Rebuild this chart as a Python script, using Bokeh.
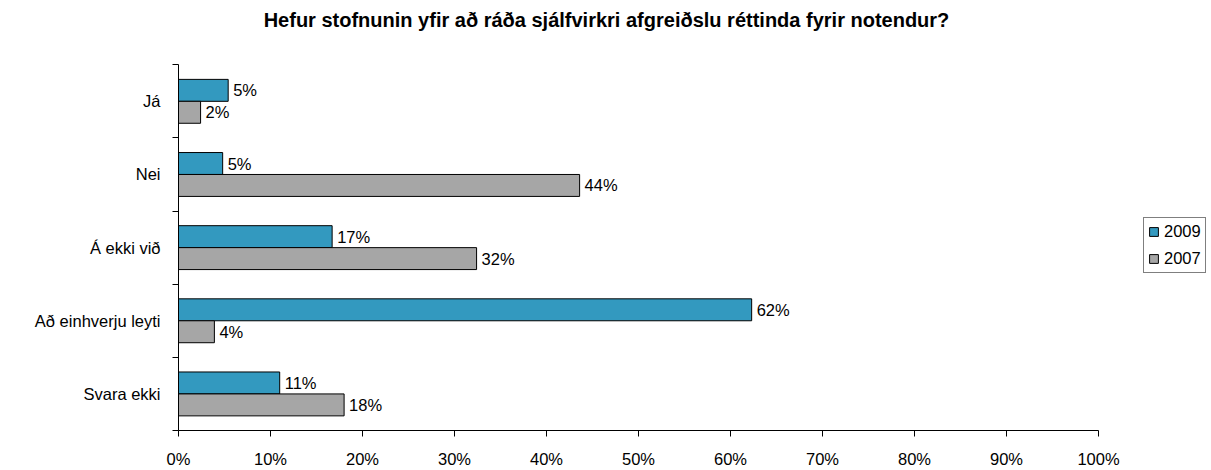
from bokeh.plotting import figure
from bokeh.models import Range1d, FixedTicker, Legend, LegendItem, ColumnDataSource, Label
from bokeh.core.properties import value
from bokeh.embed import file_html
from bokeh.resources import INLINE

title = "Hefur stofnunin yfir að ráða sjálfvirkri afgreiðslu réttinda fyrir notendur?"
categories = ["Já", "Nei", "Á ekki við", "Að einhverju leyti", "Svara ekki"]
series_names = ["2009", "2007"]
values_2009 = [5.4, 4.8, 16.7, 62.3, 11.0]
values_2007 = [2.4, 43.6, 32.4, 3.9, 18.0]
x_ticks = [0, 10, 20, 30, 40, 50, 60, 70, 80, 90, 100]

FONT = "Liberation Sans"
FS = "16.5px"
colors = ["#3399BF", "#A6A6A6"]

# layout constants (pixels)
W, H = 1211, 470
LEFT, PLOT_W, TOP_PAD, PLOT_H, BOTTOM = 178, 920, 65, 370, 35
px_x = PLOT_W / 100.0
px_y = PLOT_H / len(categories)
x_max = (W - LEFT) / px_x
y_top = -TOP_PAD / px_y

p = figure(width=W, height=H, x_range=Range1d(0, x_max), y_range=Range1d(len(categories), y_top),
           output_backend="svg", toolbar_location=None,
           min_border_left=LEFT, min_border_right=0, min_border_top=0, min_border_bottom=BOTTOM)
p.outline_line_color = None
p.xgrid.visible = False
p.ygrid.visible = False

bar_h = 0.3
sources = []
for k, (name, vals, col) in enumerate(zip(series_names, [values_2009, values_2007], colors)):
    ys = [i + 0.5 + (k - 0.5) * bar_h for i in range(len(categories))]
    src = ColumnDataSource(dict(y=ys, right=vals, label=[f"{v:.0f}%" for v in vals]))
    r = p.hbar(y="y", left=0, right="right", height=bar_h, source=src,
               fill_color=col, line_color="black", line_width=1)
    p.text(x="right", y="y", text="label", source=src, x_offset=5,
           text_font=value(FONT), text_font_size=FS, text_baseline="middle",
           text_align="left", text_color="black")
    sources.append((name, r))

# title
p.add_layout(Label(x=(606 - LEFT) / px_x, y=-(TOP_PAD - 20) / px_y, text=title,
                   text_font=FONT, text_font_size="20px", text_font_style="bold",
                   text_align="center", text_baseline="middle", text_color="black"))

# y axis
p.yaxis.bounds = (0, len(categories))
p.yaxis.ticker = FixedTicker(ticks=[i + 0.5 for i in range(len(categories))],
                             minor_ticks=list(range(len(categories) + 1)))
p.yaxis.major_label_overrides = {i + 0.5: c for i, c in enumerate(categories)}
p.yaxis.major_tick_out = 0
p.yaxis.major_tick_in = 0
p.yaxis.minor_tick_out = 6
p.yaxis.minor_tick_in = 0
p.yaxis.major_label_standoff = 12
p.yaxis.major_label_text_font = FONT
p.yaxis.major_label_text_font_size = FS
p.yaxis.major_label_text_color = "black"
p.yaxis.axis_line_color = "black"
p.yaxis.minor_tick_line_color = "black"

# x axis
p.xaxis.bounds = (0, 100)
p.xaxis.ticker = FixedTicker(ticks=x_ticks, minor_ticks=[])
p.xaxis.major_label_overrides = {t: f"{t}%" for t in x_ticks}
p.xaxis.major_tick_out = 6
p.xaxis.major_tick_in = 0
p.xaxis.major_label_standoff = 13
p.xaxis.major_label_text_font = FONT
p.xaxis.major_label_text_font_size = FS
p.xaxis.major_label_text_color = "black"
p.xaxis.axis_line_color = "black"
p.xaxis.major_tick_line_color = "black"

legend = Legend(items=[LegendItem(label=n, renderers=[r]) for n, r in sources],
                location=(965, 157), border_line_color="black", border_line_width=1,
                label_text_font=FONT, label_text_font_size=FS, label_text_color="black",
                glyph_width=11, glyph_height=11, padding=4, spacing=8,
                label_standoff=5, margin=0, background_fill_alpha=1)
p.add_layout(legend, "center")

open("out.html", "w").write(file_html(p, INLINE))
